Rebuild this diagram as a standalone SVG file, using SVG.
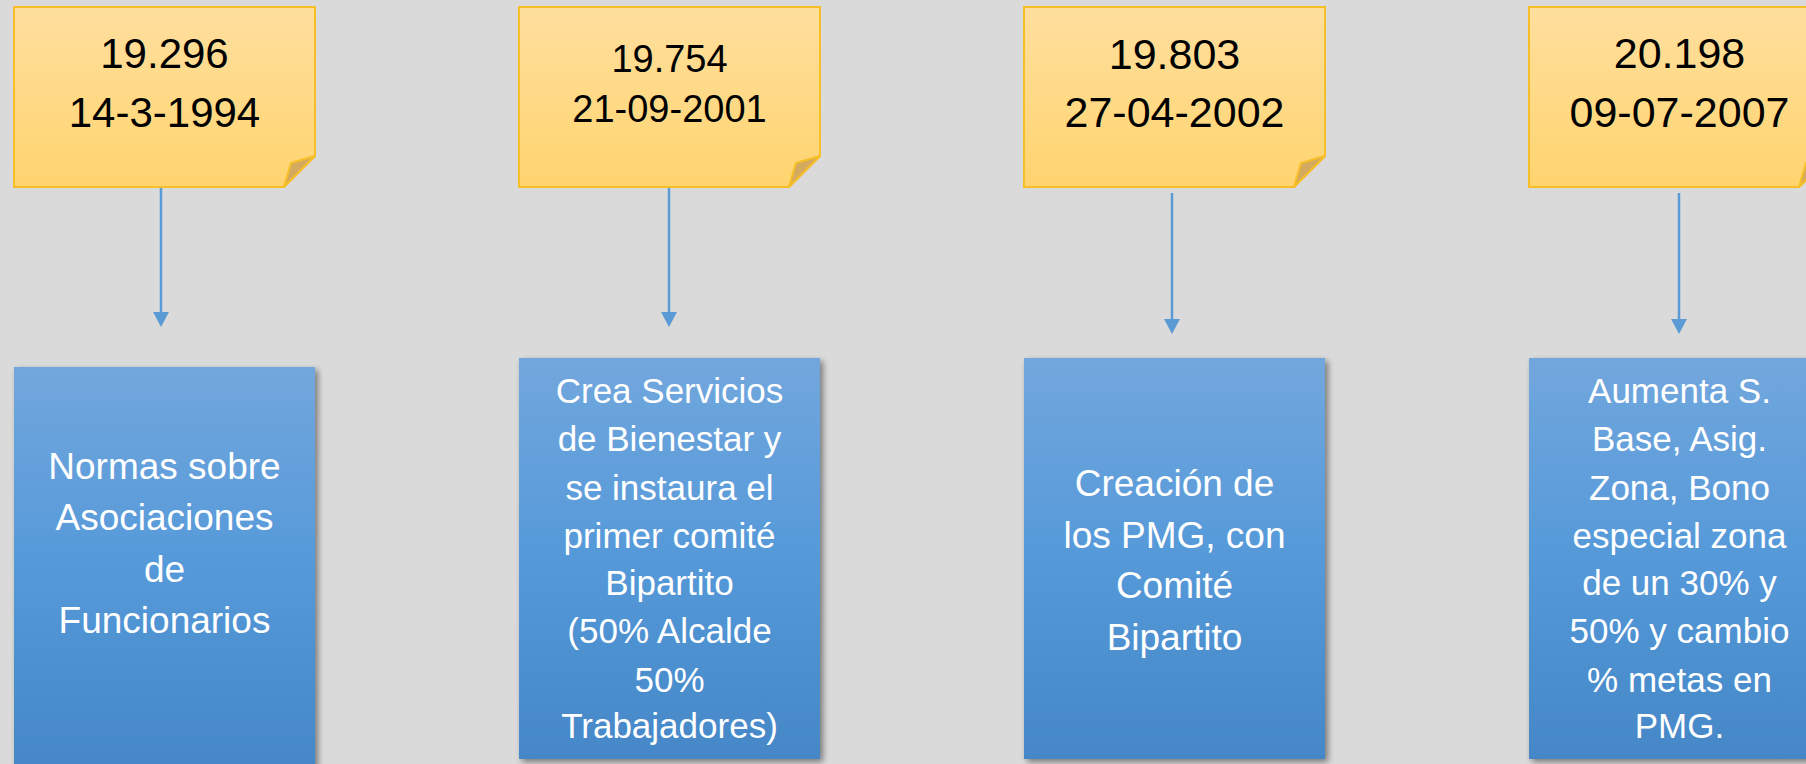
<svg xmlns="http://www.w3.org/2000/svg" width="1806" height="764" viewBox="0 0 1806 764">
<defs>
<linearGradient id="gNote" x1="0" y1="0" x2="0" y2="1">
<stop offset="0" stop-color="#FFDF9E"/>
<stop offset="1" stop-color="#FFD46F"/>
</linearGradient>
<linearGradient id="gBox" x1="0" y1="0" x2="0" y2="1">
<stop offset="0" stop-color="#72A7DD"/>
<stop offset="0.5" stop-color="#5599D9"/>
<stop offset="1" stop-color="#4587C7"/>
</linearGradient>
<filter id="sh" x="-10%" y="-10%" width="125%" height="125%">
<feGaussianBlur in="SourceAlpha" stdDeviation="3"/>
<feOffset dx="3" dy="3" result="b"/>
<feComponentTransfer><feFuncA type="linear" slope="0.45"/></feComponentTransfer>
<feMerge><feMergeNode/><feMergeNode in="SourceGraphic"/></feMerge>
</filter>
<marker id="ah" markerWidth="15" markerHeight="16" viewBox="0 0 15 16" refX="7" refY="8" orient="auto" markerUnits="userSpaceOnUse">
<path d="M0,0 L15,8 L0,16 Z" fill="#5B9BD5"/>
</marker>
</defs>
<style>
.note{fill:url(#gNote);stroke:#F7BE27;stroke-width:2}
.fold{fill:#D4AA5E;stroke:#F7BE27;stroke-width:2;stroke-linejoin:round}
.box{fill:url(#gBox);filter:url(#sh)}
.nt{font-family:"Liberation Sans",Arial,sans-serif;fill:#000;text-anchor:middle}
.bt{font-family:"Liberation Sans",Arial,sans-serif;fill:#fff;text-anchor:middle}
.conn line{stroke:#5B9BD5;stroke-width:2.5;marker-end:url(#ah)}
</style>
<rect width="1806" height="764" fill="#DADADA"/>

<g id="note1">
<path class="note" d="M14,7 H315 V156 L284,187 H14 Z"/>
<path class="fold" d="M284,187 L291,163 L315,156 Z"/>
<text class="nt" font-size="42" x="164.5" y="68">19.296</text>
<text class="nt" font-size="42" x="164.5" y="127">14-3-1994</text>
</g>
<g id="note2">
<path class="note" d="M519,7 H820 V156 L789,187 H519 Z"/>
<path class="fold" d="M789,187 L796,163 L820,156 Z"/>
<text class="nt" font-size="38" x="669.5" y="72">19.754</text>
<text class="nt" font-size="38" x="669.5" y="122">21-09-2001</text>
</g>
<g id="note3">
<path class="note" d="M1024,7 H1325 V156 L1294,187 H1024 Z"/>
<path class="fold" d="M1294,187 L1301,163 L1325,156 Z"/>
<text class="nt" font-size="43" x="1174.5" y="69">19.803</text>
<text class="nt" font-size="43" x="1174.5" y="127">27-04-2002</text>
</g>
<g id="note4">
<path class="note" d="M1529,7 H1830 V156 L1799,187 H1529 Z"/>
<path class="fold" d="M1799,187 L1806,163 L1830,156 Z"/>
<text class="nt" font-size="43" x="1679.5" y="68">20.198</text>
<text class="nt" font-size="43" x="1679.5" y="127">09-07-2007</text>
</g>

<g class="conn">
<line x1="161" y1="188" x2="161" y2="319"/>
<line x1="669" y1="188" x2="669" y2="319"/>
<line x1="1172" y1="193" x2="1172" y2="326"/>
<line x1="1679" y1="193" x2="1679" y2="326"/>
</g>

<g id="box1">
<rect class="box" x="14" y="367" width="301" height="402"/>
<text class="bt" font-size="37" x="164.5" y="479">Normas sobre</text>
<text class="bt" font-size="37" x="164.5" y="530">Asociaciones</text>
<text class="bt" font-size="37" x="164.5" y="582">de</text>
<text class="bt" font-size="37" x="164.5" y="633">Funcionarios</text>
</g>
<g id="box2">
<rect class="box" x="519" y="358" width="301" height="401"/>
<text class="bt" font-size="35" x="669.5" y="403">Crea Servicios</text>
<text class="bt" font-size="35" x="669.5" y="451">de Bienestar y</text>
<text class="bt" font-size="35" x="669.5" y="500">se instaura el</text>
<text class="bt" font-size="35" x="669.5" y="548">primer comité</text>
<text class="bt" font-size="35" x="669.5" y="595">Bipartito</text>
<text class="bt" font-size="35" x="669.5" y="643">(50% Alcalde</text>
<text class="bt" font-size="35" x="669.5" y="692">50%</text>
<text class="bt" font-size="35" x="669.5" y="738">Trabajadores)</text>
</g>
<g id="box3">
<rect class="box" x="1024" y="358" width="301" height="401"/>
<text class="bt" font-size="37" x="1174.5" y="496">Creación de</text>
<text class="bt" font-size="37" x="1174.5" y="548">los PMG, con</text>
<text class="bt" font-size="37" x="1174.5" y="598">Comité</text>
<text class="bt" font-size="37" x="1174.5" y="650">Bipartito</text>
</g>
<g id="box4">
<rect class="box" x="1529" y="358" width="301" height="401"/>
<text class="bt" font-size="35" x="1679.5" y="403">Aumenta S.</text>
<text class="bt" font-size="35" x="1679.5" y="451">Base, Asig.</text>
<text class="bt" font-size="35" x="1679.5" y="500">Zona, Bono</text>
<text class="bt" font-size="35" x="1679.5" y="548">especial zona</text>
<text class="bt" font-size="35" x="1679.5" y="595">de un 30% y</text>
<text class="bt" font-size="35" x="1679.5" y="643">50% y cambio</text>
<text class="bt" font-size="35" x="1679.5" y="692">% metas en</text>
<text class="bt" font-size="35" x="1679.5" y="738">PMG.</text>
</g>
</svg>
